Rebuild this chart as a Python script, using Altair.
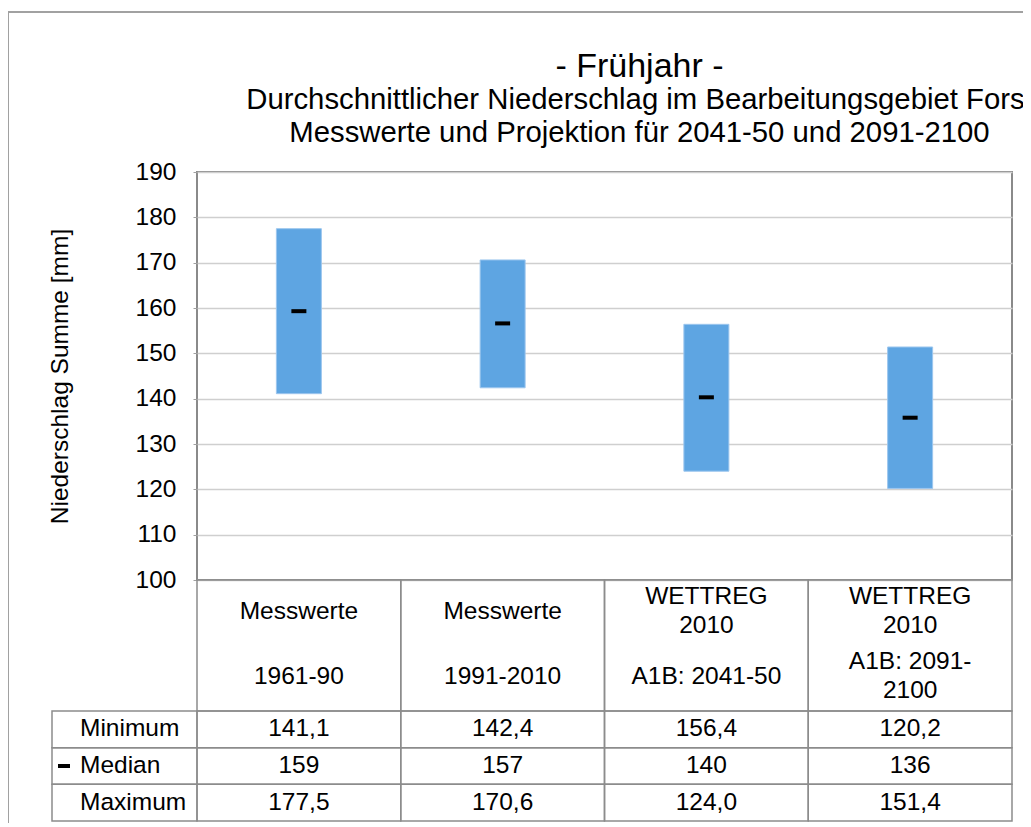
import altair as alt
import pandas as pd

# ---------------- data ----------------
cat_keys = ["Messwerte 1961-90", "Messwerte 1991-2010", "WETTREG 2010 A1B: 2041-50", "WETTREG 2010 A1B: 2091-2100"]
cat_names = ["Messwerte", "Messwerte", "WETTREG\n2010", "WETTREG\n2010"]
cat_periods = ["1961-90", "1991-2010", "A1B: 2041-50", "A1B: 2091-\n2100"]
minimum = [141.1, 142.4, 156.4, 120.2]
median = [159.3, 156.6, 140.3, 135.8]
maximum = [177.5, 170.6, 124.0, 151.4]
row_labels = ["Minimum", "Median", "Maximum"]
y_ticks = [100, 110, 120, 130, 140, 150, 160, 170, 180, 190]

FONT = "Liberation Sans"
FS = 24.5
BLUE = "#5EA5E2"
LINE = "#8C8C8C"

def de(v, dec):
    return (f"{v:.{dec}f}").replace(".", ",")

bars = pd.DataFrame({
    "cat": cat_keys,
    "low": [min(a, b) for a, b in zip(minimum, maximum)],
    "high": [max(a, b) for a, b in zip(minimum, maximum)],
    "median": median,
})
header = pd.DataFrame({"cat": cat_keys, "name": cat_names, "period": cat_periods})
cells = pd.DataFrame(
    [{"cat": c, "row": "Minimum", "txt": de(v, 1)} for c, v in zip(cat_keys, minimum)]
    + [{"cat": c, "row": "Median", "txt": str(int(round(v)))} for c, v in zip(cat_keys, median)]
    + [{"cat": c, "row": "Maximum", "txt": de(v, 1)} for c, v in zip(cat_keys, maximum)]
)
rows = pd.DataFrame({"row": row_labels})
legend_key = pd.DataFrame({"row": ["Median"]})

W, H = 815, 408
HEADER_H = 131
TABLE_BOTTOM = H + HEADER_H + 110
LINE_H = 30

x_cat = alt.Scale(domain=cat_keys, paddingInner=0, paddingOuter=0)
y_val = alt.Scale(domain=[100, 190], nice=False, zero=False)
y_rows = alt.Scale(domain=row_labels, range=[H + HEADER_H, TABLE_BOTTOM], paddingInner=0, paddingOuter=0)

X = lambda: alt.X("cat:N", scale=x_cat, axis=None, sort=cat_keys)
YR = lambda: alt.Y("row:N", scale=y_rows, axis=None, sort=row_labels)

bar_layer = alt.Chart(bars).mark_bar(width=45, color=BLUE, stroke="#9CC6EE", strokeWidth=1).encode(
    x=X(),
    y=alt.Y("low:Q", scale=y_val, axis=alt.Axis(
        values=y_ticks, title="Niederschlag Summe [mm]", grid=True, gridColor="#CFCFCF", gridWidth=1.3,
        domain=False, ticks=True, tickSize=4, tickColor="#A0A0A0",
        labelFont=FONT, labelFontSize=FS, labelColor="#000000", labelPadding=17,
        titleFont=FONT, titleFontSize=FS, titleFontWeight="normal", titleColor="#000000",
        titleX=-137, titleY=H / 2, titleAngle=270, titleAlign="center", titleBaseline="middle")),
    y2="high:Q",
)

median_layer = alt.Chart(bars).mark_tick(color="#000000", opacity=1, size=15, thickness=4).encode(
    x=X(),
    y=alt.Y("median:Q", scale=y_val, axis=None),
)

header_cells = alt.Chart(header).mark_rect(fillOpacity=0, stroke=LINE, strokeWidth=1.5).encode(
    x=X(), y=alt.value(H), y2=alt.value(H + HEADER_H),
)

def header_text(field, center, multi):
    test = f"indexof(datum.{field}, '\\n') {'>=' if multi else '<'} 0"
    top = center - (LINE_H / 2 if multi else 0)
    return alt.Chart(header).transform_filter(test).mark_text(
        font=FONT, fontSize=FS, lineBreak="\n", lineHeight=LINE_H - 1,
        baseline="middle", color="#000000").encode(
        x=X(), y=alt.value(top), text=f"{field}:N",
    )

data_cells = alt.Chart(cells).mark_rect(fillOpacity=0, stroke=LINE, strokeWidth=1.5).encode(
    x=X(), y=YR(),
)
data_text = alt.Chart(cells).mark_text(font=FONT, fontSize=FS, baseline="middle", color="#000000").encode(
    x=X(), y=YR(), text="txt:N",
)

label_cells = alt.Chart(rows).mark_rect(fillOpacity=0, stroke=LINE, strokeWidth=1.5).encode(
    x=alt.value(-145), x2=alt.value(0), y=YR(),
)
label_text = alt.Chart(rows).mark_text(font=FONT, fontSize=FS, baseline="middle", align="left",
                                       color="#000000").encode(
    x=alt.value(-117), y=YR(), text="row:N",
)
legend_dash = alt.Chart(legend_key).mark_tick(orient="horizontal", color="#000000", opacity=1,
                                              size=12, thickness=4).encode(
    x=alt.value(-133), y=YR(),
)

frame = alt.Chart(rows).mark_rect(fillOpacity=0, stroke="#A0A0A0", strokeWidth=1.5).encode(
    x=alt.value(-189), x2=alt.value(W + 200), y=alt.value(-160), y2=alt.value(TABLE_BOTTOM + 200),
)

chart = alt.layer(
    frame, bar_layer, median_layer, header_cells,
    header_text("name", H + 32, False), header_text("name", H + 32, True),
    header_text("period", H + 97, False), header_text("period", H + 97, True),
    data_cells, data_text, label_cells, label_text, legend_dash,
).resolve_scale(x="independent", y="independent").properties(
    width=W, height=H,
    autosize=alt.AutoSizeParams(type="none"),
    padding={"left": 189, "top": 164, "right": 11, "bottom": 243},
    title=alt.Title(
        text="- Frühjahr -",
        subtitle=["Durchschnittlicher Niederschlag im Bearbeitungsgebiet Forst",
                  "Messwerte und Projektion für 2041-50 und 2091-2100"],
        font=FONT, fontSize=34, fontWeight="normal", color="#000000",
        subtitleFont=FONT, subtitleFontSize=29.3, subtitleColor="#000000", subtitleLineHeight=33,
        subtitlePadding=2, anchor="middle", frame="group", dx=35, offset=-137,
    ),
).configure_view(stroke="#8A8A8A", strokeWidth=2)

chart.save("out.html", embed_options={"renderer": "svg", "actions": False})
